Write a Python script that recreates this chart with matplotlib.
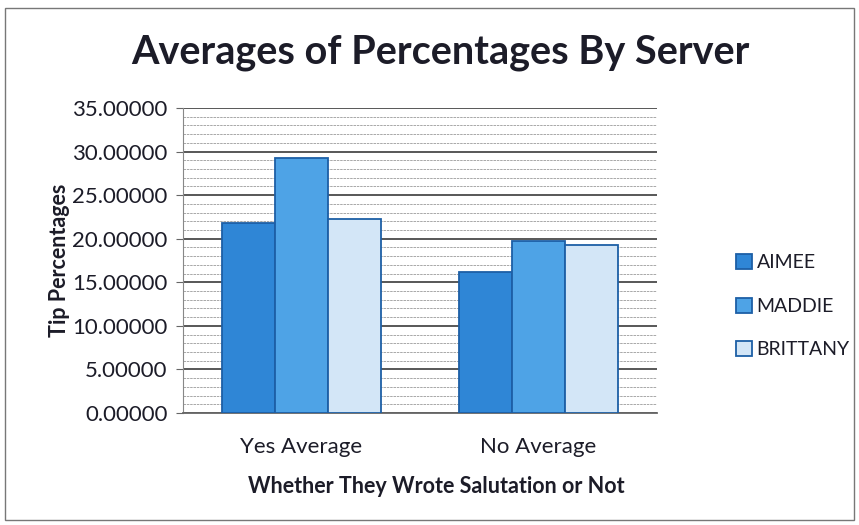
import matplotlib.pyplot as plt
import numpy as np
from matplotlib.patches import Rectangle
from matplotlib.ticker import MultipleLocator, FormatStrFormatter

# data
categories = ["Yes Average", "No Average"]
servers = ["AIMEE", "MADDIE", "BRITTANY"]
aimee = [21.85, 16.22]
maddie = [29.24, 19.78]
brittany = [22.30, 19.25]
values = [aimee, maddie, brittany]

colors = ["#2f86d6", "#4ea3e6", "#d3e6f7"]
edge = "#1d5fa6"
txt = "#1c1c28"

plt.rcParams['font.family'] = ['Lato', 'DejaVu Sans']

fig = plt.figure(figsize=(8.59, 5.25), dpi=100)
ax = fig.add_axes([0.213, 0.2133, 0.552, 0.581])

x = np.arange(len(categories))
w = 0.224
for i, (name, vals) in enumerate(zip(servers, values)):
    ax.bar(x + (i - 1) * w, vals, width=w, color=colors[i], edgecolor=edge,
           linewidth=1.3, label=name, zorder=3)

ax.set_xlim(-0.5, 1.5)
ax.set_ylim(0, 35)
ax.yaxis.set_major_locator(MultipleLocator(5))
ax.yaxis.set_minor_locator(MultipleLocator(1))
ax.yaxis.set_major_formatter(FormatStrFormatter("%.5f"))
ax.grid(which="major", axis="y", color="#4a4a4a", linewidth=1.3, zorder=1)
ax.grid(which="minor", axis="y", color="#9a9a9a", linewidth=0.6,
        linestyle=(0, (3, 1)), zorder=1)
ax.set_axisbelow(True)

for s in ["top", "right"]:
    ax.spines[s].set_visible(False)
ax.spines["left"].set_color("#888888")
ax.spines["bottom"].set_color("#666666")
ax.spines["bottom"].set_linewidth(1.3)
ax.tick_params(axis="both", which="both", length=0, labelsize=16,
               colors=txt)
ax.tick_params(axis="y", which="major", length=5, color="#666666", pad=6)
ax.tick_params(axis="x", pad=17)

ax.set_xticks(x)
ax.set_xticklabels(categories)
ax.set_xlabel("Whether They Wrote Salutation or Not", fontsize=15.5,
              fontweight="bold", labelpad=14, color=txt)
ax.xaxis.label.set_x(0.535)
ax.set_ylabel("Tip Percentages", fontsize=15.5, fontweight="bold",
              labelpad=2, color=txt)

fig.suptitle("Averages of Percentages By Server", fontsize=28.5,
             fontweight="bold", x=0.513, y=0.935, color=txt)

leg = ax.legend(loc="center left", bbox_to_anchor=(1.13, 0.35), frameon=False,
                fontsize=14, handlelength=0.8, handleheight=0.8,
                handletextpad=0.25, labelspacing=1.35)
for t in leg.get_texts():
    t.set_color(txt)

# outer chart border
fig.patches.append(Rectangle((0.006, 0.01), 0.988, 0.975,
                             transform=fig.transFigure, fill=False,
                             edgecolor="#777777", linewidth=1))

fig.savefig("out.png", dpi=100)
